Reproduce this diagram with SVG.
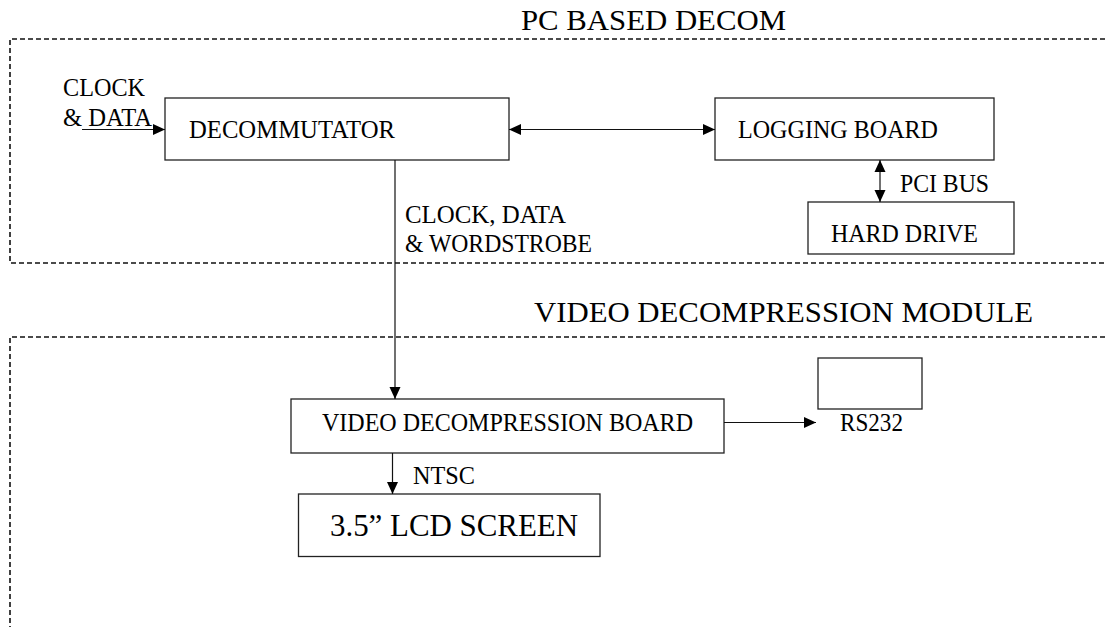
<svg xmlns="http://www.w3.org/2000/svg" width="1105" height="627" viewBox="0 0 1105 627">
<style>
text{font-family:"Liberation Serif","Times New Roman",serif;fill:#000;font-size:25px}
.box{fill:#fff;stroke:#222;stroke-width:1.3}
.conn{stroke:#111;stroke-width:1.2;fill:none}
.dash{stroke:#111;stroke-width:1.6;fill:none;stroke-dasharray:5 3}
.big{font-size:30px}
.lcd{font-size:32px}
</style>
<defs>
<marker id="arr" viewBox="0 0 12 12" refX="12" refY="6" markerWidth="12" markerHeight="12" orient="auto-start-reverse" markerUnits="userSpaceOnUse">
<path d="M0,0.5 L12,6 L0,11.5 z" fill="#000"/>
</marker>
</defs>
<rect width="1105" height="627" fill="#fff"/>
<g id="pc-based-decom">
<path class="dash" d="M1105,39 H10 V263 H1105"/>
<text class="big" x="521" y="30" textLength="265" lengthAdjust="spacingAndGlyphs">PC BASED DECOM</text>
</g>
<g id="video-decompression-module">
<path class="dash" d="M1105,337 H10 V627"/>
<text class="big" x="534" y="322" textLength="499" lengthAdjust="spacingAndGlyphs">VIDEO DECOMPRESSION MODULE</text>
</g>
<g id="decommutator">
<rect class="box" x="165" y="98" width="344" height="62"/>
<text x="189" y="138" textLength="206" lengthAdjust="spacingAndGlyphs">DECOMMUTATOR</text>
</g>
<g id="logging-board">
<rect class="box" x="715" y="98" width="279" height="62"/>
<text x="738" y="138" textLength="200" lengthAdjust="spacingAndGlyphs">LOGGING BOARD</text>
</g>
<g id="hard-drive">
<rect class="box" x="808" y="202" width="206" height="52"/>
<text x="831" y="242" textLength="147" lengthAdjust="spacingAndGlyphs">HARD DRIVE</text>
</g>
<g id="video-decompression-board">
<rect class="box" x="291" y="399" width="433" height="54"/>
<text x="322" y="431" textLength="371" lengthAdjust="spacingAndGlyphs">VIDEO DECOMPRESSION BOARD</text>
</g>
<g id="rs232">
<rect class="box" x="818" y="358" width="104" height="51"/>
<text x="840" y="431" textLength="63" lengthAdjust="spacingAndGlyphs">RS232</text>
</g>
<g id="lcd-screen">
<rect class="box" x="298.5" y="494" width="301.5" height="62.5"/>
<text class="lcd" x="330" y="536" textLength="248" lengthAdjust="spacingAndGlyphs">3.5” LCD SCREEN</text>
</g>
<g id="connectors">
<line class="conn" x1="82" y1="129.5" x2="165" y2="129.5" marker-end="url(#arr)"/>
<line class="conn" x1="509" y1="129.5" x2="715" y2="129.5" marker-start="url(#arr)" marker-end="url(#arr)"/>
<line class="conn" x1="880" y1="160" x2="880" y2="202" marker-start="url(#arr)" marker-end="url(#arr)"/>
<line class="conn" x1="395" y1="160" x2="395" y2="399" marker-end="url(#arr)"/>
<line class="conn" x1="724" y1="422.5" x2="816" y2="422.5" marker-end="url(#arr)"/>
<line class="conn" x1="392.5" y1="453" x2="392.5" y2="494" marker-end="url(#arr)"/>
<text x="63" y="96" textLength="82" lengthAdjust="spacingAndGlyphs">CLOCK</text>
<text x="63" y="126" textLength="89" lengthAdjust="spacingAndGlyphs">&amp; DATA</text>
<text x="900" y="192" textLength="89" lengthAdjust="spacingAndGlyphs">PCI BUS</text>
<text x="405" y="223" textLength="161" lengthAdjust="spacingAndGlyphs">CLOCK, DATA</text>
<text x="405" y="252" textLength="187" lengthAdjust="spacingAndGlyphs">&amp; WORDSTROBE</text>
<text x="413" y="484" textLength="62" lengthAdjust="spacingAndGlyphs">NTSC</text>
</g>
</svg>
